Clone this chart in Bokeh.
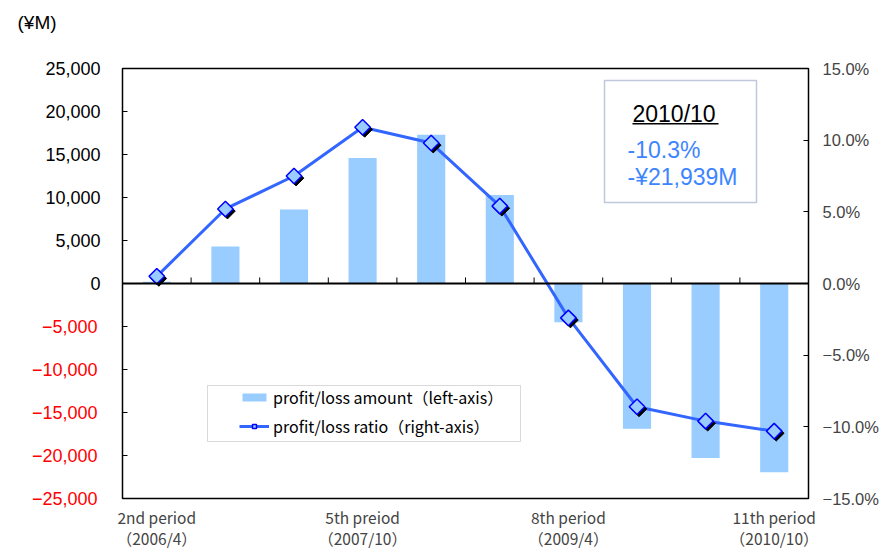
from bokeh.plotting import figure
from bokeh.models import (Range1d, LinearAxis, FixedTicker, Span, Legend, LegendItem,
                          Label, BoxAnnotation, ColumnDataSource)
from bokeh.transform import dodge
from bokeh.embed import file_html
from bokeh.resources import INLINE

# ---------------- data ----------------
periods = ["2nd period", "3rd period", "4th period", "5th period", "6th period",
           "7th period", "8th period", "9th period", "10th period", "11th period"]
amount = [200, 4300, 8600, 14600, 17300, 10300, -4500, -16900, -20300, -21939]
ratio = [0.5, 5.2, 7.5, 10.9, 9.8, 5.4, -2.4, -8.6, -9.6, -10.3]

labeled_index = [0, 3, 6, 9]
x_labels = ["2nd period\n（2006/4）", "5th preiod\n（2007/10）",
            "8th period\n（2009/4）", "11th period\n（2010/10）"]

left_ticks = [-25000, -20000, -15000, -10000, -5000, 0, 5000, 10000, 15000, 20000, 25000]
left_labels = ["−25,000", "−20,000", "−15,000", "−10,000", "−5,000", "0",
               "5,000", "10,000", "15,000", "20,000", "25,000"]
right_ticks = [-15, -10, -5, 0, 5, 10, 15]
right_labels = ["−15.0%", "−10.0%", "−5.0%", "0.0%", "5.0%", "10.0%", "15.0%"]

unit_label = "(¥M)"
legend_labels = ["profit/loss amount（left-axis）", "profit/loss ratio（right-axis）"]
box_title = "2010/10"
box_lines = ["-10.3%", "-¥21,939M"]

# ---------------- styles ----------------
BAR = "#99CCFF"
LINE = "#3366FF"
NUM_FONT = "Liberation Sans"
X_FONT = "Noto Sans CJK JP"
LEG_FONT = "Noto Sans CJK JP"
YSIZE = 18
# width of "25,000" in Liberation Sans (Arial metrics: 5 digits + comma)
BLACK_LABEL_W = YSIZE * (5 * 0.556 + 0.278)

pos = [i + 0.5 for i in range(len(periods))]
bounds = [i for i in range(1, len(periods))]

src = ColumnDataSource(dict(x=pos, amount=amount, ratio=ratio, period=periods))

p = figure(width=881, height=554, output_backend="svg", toolbar_location=None,
           x_range=Range1d(0, len(periods)), y_range=Range1d(-25000, 25000),
           min_border_left=122, min_border_right=73, min_border_top=68,
           min_border_bottom=56, tools="")
p.extra_y_ranges = {"ratio": Range1d(-15, 15)}
p.grid.visible = False
p.outline_line_color = "black"
p.outline_line_width = 1.5
p.background_fill_color = "white"
p.border_fill_color = "white"

# unit label as title (blank second line keeps it high above the frame)
p.title.text = unit_label + "\n "
p.title.align = "left"
p.title.offset = -105
p.title.standoff = 0
p.title.text_font = NUM_FONT
p.title.text_font_size = "19px"
p.title.text_font_style = "normal"
p.title.text_line_height = 1.68
p.title.text_color = "black"

# bars
bars = p.vbar(x="x", top="amount", bottom=0, width=0.41, source=src,
              fill_color=BAR, line_color=None)

# zero line + small ticks between categories
p.add_layout(Span(location=0, dimension="width", line_color="black", line_width=2))
tsrc = ColumnDataSource(dict(x=bounds, y=[0] * len(bounds)))
p.scatter(x="x", y=dodge("y", 350), source=tsrc, marker="dash", angle=1.5708,
          size=6, line_color="black", line_width=1)

# ratio line with shadowed markers
line = p.line(x="x", y="ratio", source=src, y_range_name="ratio",
              line_color=LINE, line_width=3)
p.scatter(x=dodge("x", 0.03), y=dodge("ratio", -0.15, range=p.extra_y_ranges["ratio"]),
          source=src, y_range_name="ratio", marker="square", angle=0.785398, size=11,
          fill_color="black", line_color="black")
pts = p.scatter(x="x", y="ratio", source=src, y_range_name="ratio", marker="square",
                angle=0.785398, size=11, fill_color=BAR, line_color="#0000FF",
                line_width=1.5)

# left axis: ticks for all, black labels for >= 0
neg_ticks = [t for t in left_ticks if t < 0]
lab_map = dict(zip(left_ticks, left_labels))

ya = p.yaxis[0]
ya.ticker = FixedTicker(ticks=left_ticks)
ya.major_label_overrides = {t: (lab_map[t] if t >= 0 else "") for t in left_ticks}
ya.major_tick_in = 5
ya.major_tick_out = 0
ya.minor_tick_line_color = None
ya.axis_line_color = None
ya.major_label_standoff = 22
ya.major_label_text_font = NUM_FONT
ya.major_label_text_font_size = f"{YSIZE}px"
ya.major_label_text_color = "black"

# outer left axis carrying the red negative labels, pulled back over the inner one
na = LinearAxis(ticker=FixedTicker(ticks=neg_ticks))
na.major_label_overrides = {t: lab_map[t] for t in neg_ticks}
na.major_tick_in = 0
na.major_tick_out = 0
na.major_tick_line_color = None
na.minor_tick_line_color = None
na.axis_line_color = None
na.major_label_standoff = -round(BLACK_LABEL_W)
na.major_label_text_font = NUM_FONT
na.major_label_text_font_size = f"{YSIZE}px"
na.major_label_text_color = "#FF0000"
p.add_layout(na, "left")

# right axis
ra = LinearAxis(y_range_name="ratio", ticker=FixedTicker(ticks=right_ticks))
ra.major_label_overrides = dict(zip(right_ticks, right_labels))
ra.major_tick_in = 5
ra.major_tick_out = 0
ra.minor_tick_line_color = None
ra.axis_line_color = None
ra.major_label_standoff = 14
ra.major_label_text_font = NUM_FONT
ra.major_label_text_font_size = "16.5px"
p.add_layout(ra, "right")

# bottom axis
xa = p.xaxis[0]
xa.ticker = FixedTicker(ticks=[pos[i] for i in labeled_index])
xa.major_label_overrides = {pos[i]: lab for i, lab in zip(labeled_index, x_labels)}
xa.major_tick_line_color = None
xa.minor_tick_line_color = None
xa.axis_line_color = None
xa.major_label_standoff = 1
xa.major_label_text_font = X_FONT
xa.major_label_text_font_size = "15.5px"
xa.major_label_text_line_height = 0.98

# legend (box drawn separately)
p.add_layout(BoxAnnotation(left=85, right=398, bottom=57, top=113,
                           left_units="screen", right_units="screen",
                           bottom_units="screen", top_units="screen",
                           fill_color="white", fill_alpha=1.0,
                           line_color="#808080", line_width=1))
legend = Legend(items=[LegendItem(label=legend_labels[0], renderers=[bars]),
                       LegendItem(label=legend_labels[1], renderers=[line, pts])],
                location=(117, 60), orientation="vertical",
                border_line_color=None, background_fill_alpha=0.0,
                padding=0, spacing=5, margin=0,
                glyph_width=30, glyph_height=10, label_height=20,
                label_standoff=4, label_text_font=LEG_FONT,
                label_text_font_size="16px", label_text_color="black")
p.add_layout(legend)

# info box
p.add_layout(BoxAnnotation(left=482, right=634, bottom=296, top=418,
                           left_units="screen", right_units="screen",
                           bottom_units="screen", top_units="screen",
                           fill_color="white", fill_alpha=1.0,
                           line_color="#2F4A8F", line_width=1.5))
p.add_layout(Label(x=510, y=385, x_units="screen", y_units="screen", text=box_title,
                   text_font=NUM_FONT, text_font_size="23px", text_color="black",
                   text_baseline="alphabetic"))
p.add_layout(BoxAnnotation(left=510, right=596, bottom=374, top=375.5,
                           left_units="screen", right_units="screen",
                           bottom_units="screen", top_units="screen",
                           fill_color="black", fill_alpha=1.0, line_color=None))
p.add_layout(Label(x=505, y=349, x_units="screen", y_units="screen", text=box_lines[0],
                   text_font=NUM_FONT, text_font_size="23px", text_color="#3D85FF",
                   text_baseline="alphabetic"))
p.add_layout(Label(x=505, y=322, x_units="screen", y_units="screen", text=box_lines[1],
                   text_font=NUM_FONT, text_font_size="23px", text_color="#3D85FF",
                   text_baseline="alphabetic"))

open("out.html", "w").write(file_html(p, INLINE))
